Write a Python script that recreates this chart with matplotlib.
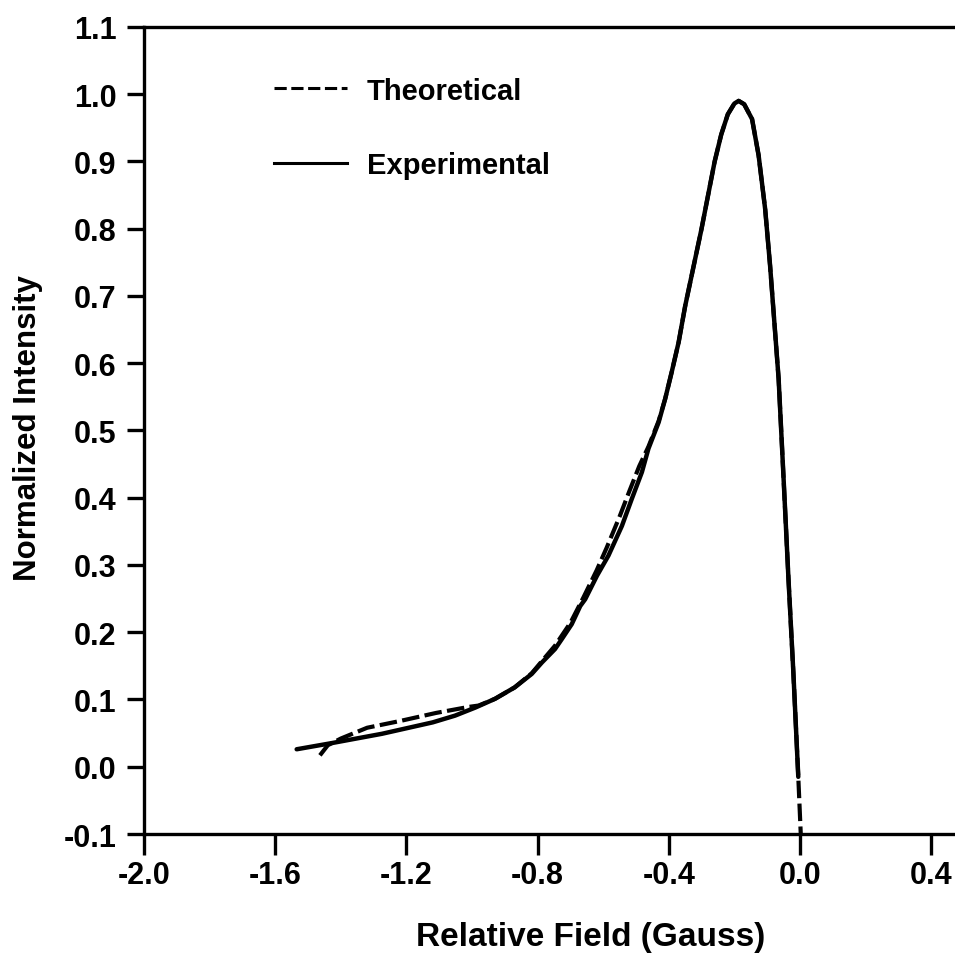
import matplotlib
matplotlib.use("Agg")
import matplotlib.pyplot as plt
from matplotlib.lines import Line2D

plt.rcParams['font.family'] = ['Liberation Sans', 'DejaVu Sans']

# Experimental (solid)
x_exp = [-1.535, -1.43, -1.275, -1.12, -1.052, -0.99, -0.93, -0.87, -0.818,
         -0.787, -0.747, -0.726, -0.696, -0.67, -0.655, -0.619, -0.584, -0.543,
         -0.513, -0.482, -0.462, -0.431, -0.411, -0.391, -0.37, -0.35, -0.30,
         -0.26, -0.24, -0.22, -0.20, -0.187, -0.17, -0.146, -0.126, -0.106,
         -0.091, -0.065, -0.05, -0.035, -0.02, -0.005]
y_exp = [0.026, 0.035, 0.049, 0.066, 0.076, 0.088, 0.101, 0.118, 0.138,
         0.155, 0.175, 0.19, 0.212, 0.239, 0.249, 0.284, 0.314, 0.358,
         0.398, 0.438, 0.473, 0.512, 0.547, 0.587, 0.631, 0.685, 0.80,
         0.90, 0.94, 0.97, 0.986, 0.99, 0.985, 0.963, 0.909, 0.829,
         0.745, 0.577, 0.43, 0.28, 0.14, -0.015]

# Theoretical (dashed)
x_th = [-1.464, -1.44, -1.40, -1.32, -1.22, -1.11, -1.01, -0.98, -0.93, -0.87,
        -0.818, -0.787, -0.747, -0.70, -0.66, -0.62, -0.59, -0.55, -0.52,
        -0.49, -0.462, -0.431, -0.411, -0.391, -0.37, -0.35, -0.30, -0.26,
        -0.24, -0.22, -0.20, -0.187, -0.17, -0.146, -0.126, -0.106, -0.091,
        -0.065, -0.05, -0.035, -0.02, -0.005, 0.003]
y_th = [0.017, 0.032, 0.042, 0.058, 0.068, 0.080, 0.089, 0.091, 0.101, 0.118,
        0.139, 0.157, 0.180, 0.214, 0.252, 0.292, 0.325, 0.372, 0.41,
        0.447, 0.476, 0.514, 0.547, 0.587, 0.631, 0.685, 0.80, 0.90,
        0.94, 0.97, 0.986, 0.99, 0.985, 0.963, 0.909, 0.829, 0.745,
        0.577, 0.43, 0.28, 0.14, -0.015, -0.105]

x_ticks = [-2.0, -1.6, -1.2, -0.8, -0.4, 0.0, 0.4]
y_ticks = [-0.1, 0.0, 0.1, 0.2, 0.3, 0.4, 0.5, 0.6, 0.7, 0.8, 0.9, 1.0, 1.1]

fig = plt.figure(figsize=(9.55, 9.62), dpi=100)
ax = fig.add_axes([0.151, 0.132, 0.849, 0.839])

ax.plot(x_th, y_th, color='black', lw=3.0, linestyle=(0, (4.2, 1.3)),
        solid_capstyle='round')
ax.plot(x_exp, y_exp, color='black', lw=3.2, solid_capstyle='round',
        solid_joinstyle='round')

ax.set_xlim(-2.0, 0.473)
ax.set_ylim(-0.1, 1.1)
ax.set_xticks(x_ticks)
ax.set_yticks(y_ticks)
ax.set_xticklabels([f"{v:.1f}" for v in x_ticks])
ax.set_yticklabels([f"{v:.1f}" for v in y_ticks])

for s in ['left', 'bottom', 'top']:
    ax.spines[s].set_linewidth(2.4)
ax.spines['right'].set_visible(False)

ax.tick_params(axis='x', direction='out', length=15, width=2.4, pad=4,
               labelsize=22, top=False)
ax.tick_params(axis='y', direction='out', length=12, width=2.4, pad=8,
               labelsize=22, right=False)
for lab in ax.get_xticklabels() + ax.get_yticklabels():
    lab.set_fontweight('bold')

ax.set_xlabel('Relative Field (Gauss)', fontsize=24, fontweight='bold')
ax.set_ylabel('Normalized Intensity', fontsize=22.5, fontweight='bold')
ax.xaxis.set_label_coords(0.55, -0.108)
ax.yaxis.set_label_coords(-0.1245, 0.504)

handles = [Line2D([], [], color='black', lw=2.2, linestyle=(0, (4, 1.5))),
           Line2D([], [], color='black', lw=2.2)]
ax.legend(handles, ['Theoretical', 'Experimental'], loc='upper left',
          bbox_to_anchor=(0.128, 0.971), frameon=False, handlelength=2.5,
          handletextpad=0.68, labelspacing=1.6,
          prop={'size': 21, 'weight': 'bold'})

fig.savefig('out.png', dpi=100)
